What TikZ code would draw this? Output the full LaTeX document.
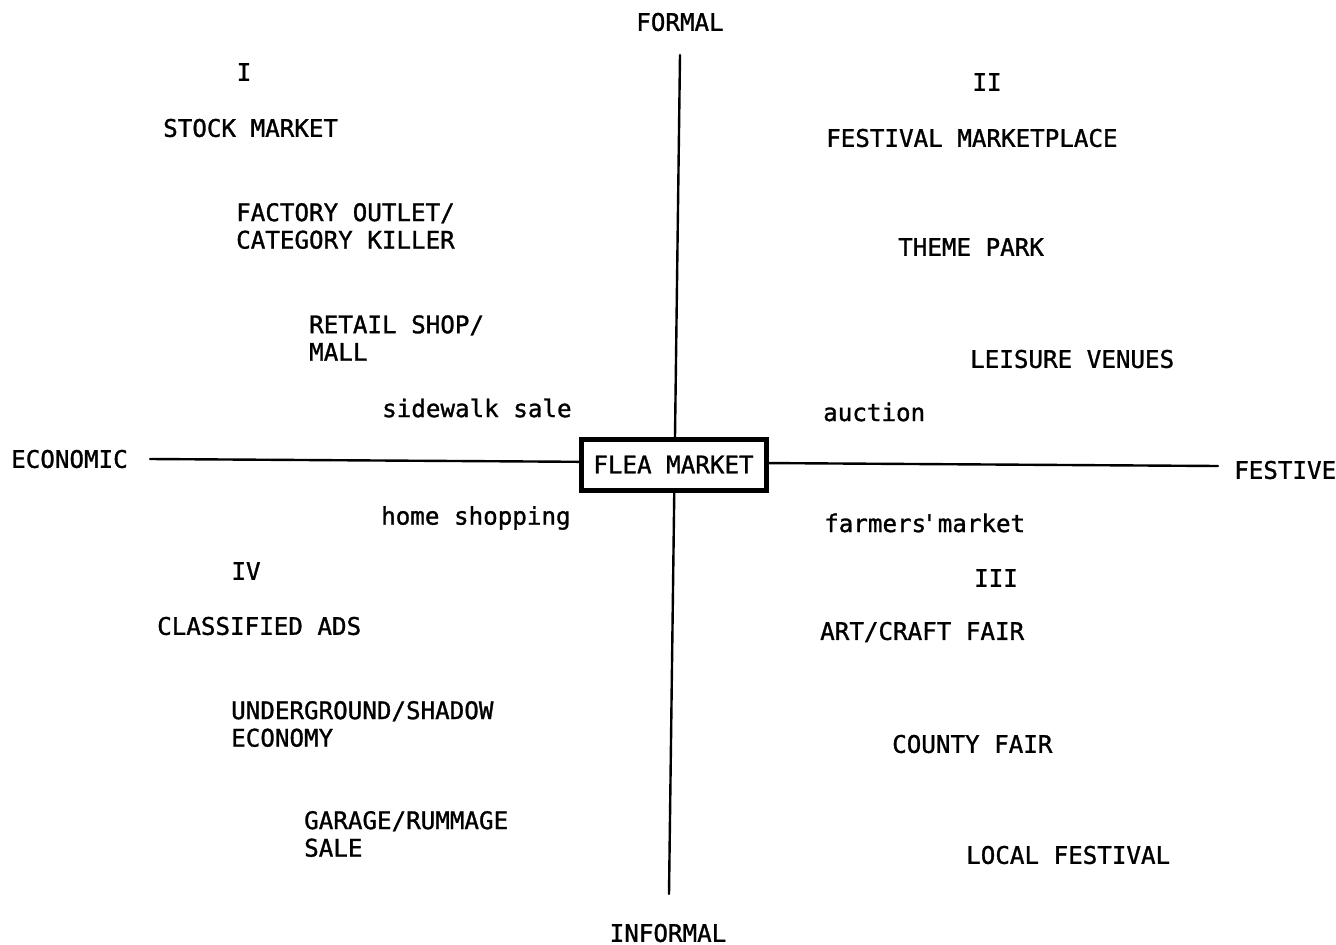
\documentclass[tikz,border=0pt]{standalone}
\usepackage{fontspec}
\setmainfont{DejaVu Sans Mono}[FakeBold=1.2]
\begin{document}
\begin{tikzpicture}[x=1pt,y=-1pt,
  lbl/.style={anchor=west,align=left,inner sep=0pt,font=\fontsize{24.2}{27.5}\selectfont},
  ctr/.style={lbl,anchor=center},
  axis/.style={line width=2.4pt,line cap=round},
  hub/.style={draw,fill=white,line width=5pt,minimum width=185pt,minimum height=51pt,inner sep=0pt,font=\fontsize{24.2}{27.5}\selectfont}]
\useasboundingbox (0,0) rectangle (1336,945);

% axis end points
\coordinate (vt) at (680,55);
\coordinate (vb) at (669,894);
\coordinate (hl) at (150,459);
\coordinate (hr) at (1218,466);

% axes
\draw[axis] (vt) -- (vb);
\draw[axis] (hl) -- (hr);

% centre box
\node[hub] (flea) at (673.5,464.5) {FLEA MARKET};

% axis labels
\node[ctr] (formal) at (680,22) {FORMAL};
\node[ctr] (informal) at (668,933) {INFORMAL};
\node[lbl] (economic) at (11,459) {ECONOMIC};
\node[lbl] (festive) at (1234,470) {FESTIVE};

% quadrant I
\node[ctr] (q1) at (244,72) {I};
\node[lbl] (stock) at (163,128) {STOCK MARKET};
\node[lbl] (factory) at (236,226) {FACTORY OUTLET/\\CATEGORY KILLER};
\node[lbl] (retail) at (309,338) {RETAIL SHOP/\\MALL};
\node[lbl] (sidewalk) at (382,408) {sidewalk sale};

% quadrant II
\node[ctr] (q2) at (987,82) {II};
\node[lbl] (festival) at (826,138) {FESTIVAL MARKETPLACE};
\node[lbl] (theme) at (898,247) {THEME PARK};
\node[lbl] (leisure) at (970,359) {LEISURE VENUES};
\node[lbl] (auction) at (823,412) {auction};

% quadrant III
\node[lbl] (farmers) at (824,523) {farmers\kern-4pt\textquotesingle\kern1pt market};
\node[ctr] (q3) at (996,578) {III};
\node[lbl] (artcraft) at (820,632) {ART/CRAFT FAIR};
\node[lbl] (county) at (892,744) {COUNTY FAIR};
\node[lbl] (local) at (966,855) {LOCAL FESTIVAL};

% quadrant IV
\node[lbl] (home) at (381,518) {home shopping};
\node[ctr] (q4) at (246,571) {IV};
\node[lbl] (classified) at (157,626) {CLASSIFIED ADS};
\node[lbl] (underground) at (231,724) {UNDERGROUND/SHADOW\\ECONOMY};
\node[lbl] (garage) at (304,834) {GARAGE/RUMMAGE\\SALE};
\end{tikzpicture}
\end{document}
